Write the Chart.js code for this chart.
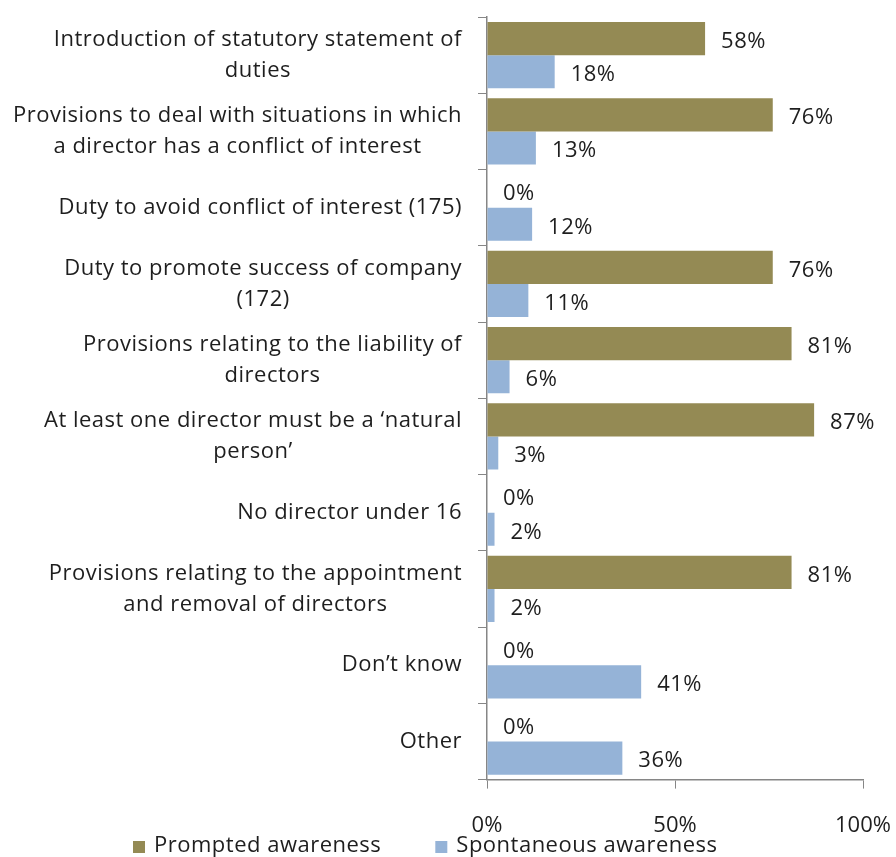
<!DOCTYPE html>
<html>
<head>
<meta charset="utf-8">
<script src="https://cdn.jsdelivr.net/npm/chart.js@4/dist/chart.umd.min.js"></script>
<style>
  html, body { margin: 0; padding: 0; background: #ffffff; }
  #wrap { width: 896px; height: 857px; }
</style>
</head>
<body>
<div id="wrap"><canvas id="chart"></canvas></div>
<script>
// Awareness of directors' duties provisions
const categories = [
  ['Introduction of statutory statement of', 'duties'],
  ['Provisions to deal with situations in which', 'a director has a conflict of interest'],
  ['Duty to avoid conflict of interest (175)'],
  ['Duty to promote success of company', '(172)'],
  ['Provisions relating to the liability of', 'directors'],
  ['At least one director must be a \u2018natural', 'person\u2019'],
  ['No director under 16'],
  ['Provisions relating to the appointment', 'and removal of directors'],
  ['Don\u2019t know'],
  ['Other']
];
const prompted = [58, 76, 0, 76, 81, 87, 0, 81, 0, 0];
const spontaneous = [18, 13, 12, 11, 6, 3, 2, 2, 41, 36];
const seriesNames = ['Prompted awareness', 'Spontaneous awareness'];
const seriesColors = ['#948A54', '#95B3D7'];
const xTicks = [0, 50, 100];

const FONT = '"Open Sans", Lato, sans-serif';
const FS = 22;
const SPACING = '0.5px';
const TEXT = '#1e1e1e';
const AXIS = '#868686';

function textStyle(ctx) {
  ctx.font = FS + 'px ' + FONT;
  ctx.fillStyle = TEXT;
  if ('letterSpacing' in ctx) ctx.letterSpacing = SPACING;
}

// Value labels to the right of each bar
const valueLabels = {
  id: 'valueLabels',
  afterDatasetsDraw(chart) {
    const ctx = chart.ctx;
    ctx.save();
    textStyle(ctx);
    ctx.textAlign = 'left';
    ctx.textBaseline = 'middle';
    chart.data.datasets.forEach((ds, di) => {
      chart.getDatasetMeta(di).data.forEach((bar, i) => {
        ctx.fillText(ds.data[i] + '%', bar.x + 16, bar.y + 3);
      });
    });
    ctx.restore();
  }
};

// Category labels: block right-aligned against the axis, lines centred within the block
const categoryLabels = {
  id: 'categoryLabels',
  afterDraw(chart) {
    const ctx = chart.ctx;
    const ys = chart.scales.y;
    const lh = 31;
    const right = ys.right - 25;
    ctx.save();
    textStyle(ctx);
    ctx.textAlign = 'left';
    ctx.textBaseline = 'middle';
    categories.forEach((lines, i) => {
      const cy = ys.getPixelForTick(i);
      const ws = lines.map(l => ctx.measureText(l).width);
      const w = Math.max(...ws);
      const y0 = cy - (lines.length - 1) * lh / 2;
      lines.forEach((l, k) => ctx.fillText(l, right - w + (w - ws[k]) / 2, y0 + k * lh));
    });
    ctx.restore();
  }
};

// Legend row along the bottom edge
const bottomLegend = {
  id: 'bottomLegend',
  afterDraw(chart) {
    const ctx = chart.ctx;
    const box = 12, gapText = 9, gapItem = 54;
    ctx.save();
    textStyle(ctx);
    const widths = seriesNames.map(n => box + gapText + ctx.measureText(n).width);
    let x = 133;
    const y = chart.height - 11;
    ctx.textAlign = 'left';
    ctx.textBaseline = 'middle';
    seriesNames.forEach((n, i) => {
      ctx.fillStyle = seriesColors[i];
      ctx.fillRect(x, y - box / 2 + 1, box, box);
      ctx.fillStyle = TEXT;
      ctx.fillText(n, x + box + gapText, y);
      x += widths[i] + gapItem;
    });
    ctx.restore();
  }
};

new Chart(document.getElementById('chart'), {
  type: 'bar',
  data: {
    labels: categories,
    datasets: [
      { label: seriesNames[0], data: prompted, backgroundColor: seriesColors[0], borderWidth: 0 },
      { label: seriesNames[1], data: spontaneous, backgroundColor: seriesColors[1], borderWidth: 0 }
    ]
  },
  options: {
    indexAxis: 'y',
    responsive: true,
    maintainAspectRatio: false,
    animation: false,
    layout: { padding: { top: 17, right: 33, bottom: 0, left: 0 } },
    datasets: { bar: { categoryPercentage: 0.87, barPercentage: 1.0 } },
    scales: {
      x: {
        min: 0, max: 100,
        afterBuildTicks(scale) { scale.ticks = xTicks.map(v => ({ value: v })); },
        afterFit(scale) {
          scale.paddingLeft = 0;
          scale.paddingRight = 0;
          scale.height -= 6;
        },
        grid: { drawOnChartArea: false, drawTicks: true, tickLength: 9, color: AXIS },
        border: { display: true, color: AXIS, width: 1.5 },
        ticks: {
          padding: 24,
          color: TEXT,
          font: { family: FONT, size: FS },
          callback: v => v + '%'
        }
      },
      y: {
        grid: { drawOnChartArea: false, drawTicks: true, tickLength: 9, color: AXIS, offset: true },
        border: { display: true, color: AXIS, width: 1.5 },
        ticks: { display: false },
        afterFit(scale) { scale.width = 487; }
      }
    },
    plugins: {
      legend: { display: false },
      tooltip: { enabled: false }
    }
  },
  plugins: [valueLabels, categoryLabels, bottomLegend]
});
</script>
</body>
</html>
